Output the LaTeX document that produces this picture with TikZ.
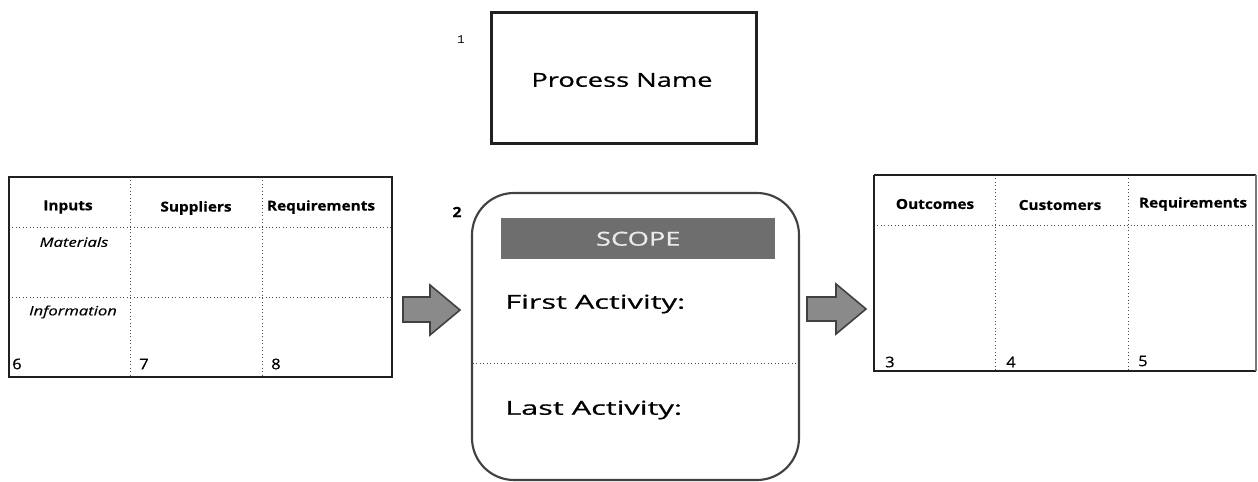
\documentclass[tikz,border=0pt]{standalone}
\usepackage{fontspec}
\setmainfont{Open Sans}
\newfontfamily\bigfont[FakeStretch=1.42,FakeBold=0.7]{Open Sans}
\newfontfamily\actfont[FakeStretch=1.6,FakeBold=0.7]{Open Sans}
\newfontfamily\headfont[FakeStretch=1.12,FakeBold=0.5]{Open Sans}
\newfontfamily\itfont[FakeStretch=1.3,FakeBold=0.3]{Open Sans}
\newfontfamily\smallmono{Liberation Mono}
\definecolor{edge}{HTML}{202020}
\definecolor{scopegray}{HTML}{6E6E6E}
\definecolor{arrowgray}{HTML}{8A8A8A}
\tikzset{
  frame/.style={draw=edge, line width=2pt},
  grid/.style={draw=edge!80, line width=0.6pt, dotted},
  bigtext/.style={font=\bigfont\fontsize{14.4}{17}\selectfont, inner sep=0pt},
  acttext/.style={font=\actfont\fontsize{14.4}{17}\selectfont, inner sep=0pt},
  headtext/.style={font=\headfont\bfseries\fontsize{10.3}{12}\selectfont, inner sep=0pt},
  ittext/.style={font=\itfont\itshape\fontsize{9.6}{11}\selectfont, inner sep=0pt},
  numtext/.style={font=\headfont\fontsize{11}{13}\selectfont, inner sep=0pt},
  fatarrow/.style={fill=arrowgray, draw=edge!85, line width=1.2pt, line join=miter},
}
\begin{document}
\begin{tikzpicture}[x=0.75pt,y=-0.75pt]
\useasboundingbox (0,0) rectangle (1258,482);

% Process name
\node[frame, minimum width=265*0.75pt, minimum height=131*0.75pt, anchor=north west, inner sep=0pt] (proc) at (490,11) {};
\node[bigtext] (procname) at (622,80) {Process Name};
\node[font=\smallmono\fontsize{9}{11}\selectfont, inner sep=0pt] (n1) at (461,40) {1};

% Left table
\coordinate (lt) at (9,177);
\coordinate (lb) at (392,377);
\draw[grid] (130,177) -- (130,377);
\draw[grid] (262,177) -- (262,377);
\draw[grid] (9,227) -- (392,227);
\draw[grid] (9,297) -- (392,297);
\draw[frame] (lt) rectangle (lb);
\node[headtext] (inputs) at (68,207) {Inputs};
\node[headtext] (suppliers) at (196,208) {Suppliers};
\node[headtext] (reqL) at (321,207) {Requirements};
\node[ittext] (materials) at (74,242) {Materials};
\node[ittext] (information) at (73,312) {Information};
\node[numtext, anchor=west] (n6) at (12,364) {6};
\node[numtext, anchor=west] (n7) at (139,364) {7};
\node[numtext, anchor=west] (n8) at (271,364) {8};

% Left arrow
\draw[fatarrow] (403,297) -- (430,297) -- (430,285) -- (460,310) -- (430,335) -- (430,322) -- (403,322) -- cycle;

% Scope box
\draw[draw=edge!85, line width=1.6pt, rounded corners=42*0.75pt] (472,193) rectangle (799,480);
\node[fill=scopegray, minimum width=274*0.75pt, minimum height=41*0.75pt, inner sep=0pt, anchor=north west] (scopebar) at (501,218) {};
\node[bigtext, text=white!92!black] (scope) at (scopebar.center) {SCOPE};
\node[font=\headfont\bfseries\fontsize{10.5}{12}\selectfont, inner sep=0pt] (n2) at (457,212) {2};
\node[acttext, anchor=west] (first) at (505,304) {First Activity:};
\draw[grid] (473,363) -- (798,363);
\node[acttext, anchor=west] (last) at (505,410) {Last Activity:};

% Right arrow
\draw[fatarrow] (807,297) -- (836,297) -- (836,284) -- (866,309) -- (836,334) -- (836,321) -- (807,321) -- cycle;

% Right table
\coordinate (rt) at (874,175);
\coordinate (rb) at (1256,371);
\draw[grid] (995,175) -- (995,371);
\draw[grid] (1128,175) -- (1128,371);
\draw[grid] (874,225) -- (1256,225);
\draw[frame] (rt) -- (1256,175);
\draw[frame] (rt) -- (874,371) -- (rb);
\draw[draw=edge!60, line width=0.8pt] (1256,175) -- (rb);
\node[headtext] (outcomes) at (935,204) {Outcomes};
\node[headtext] (customers) at (1060,205) {Customers};
\node[headtext] (reqR) at (1193,204) {Requirements};
\node[numtext, anchor=west] (n3) at (885,362) {3};
\node[numtext, anchor=west] (n4) at (1006,362) {4};
\node[numtext, anchor=west] (n5) at (1138,361) {5};
\end{tikzpicture}
\end{document}
